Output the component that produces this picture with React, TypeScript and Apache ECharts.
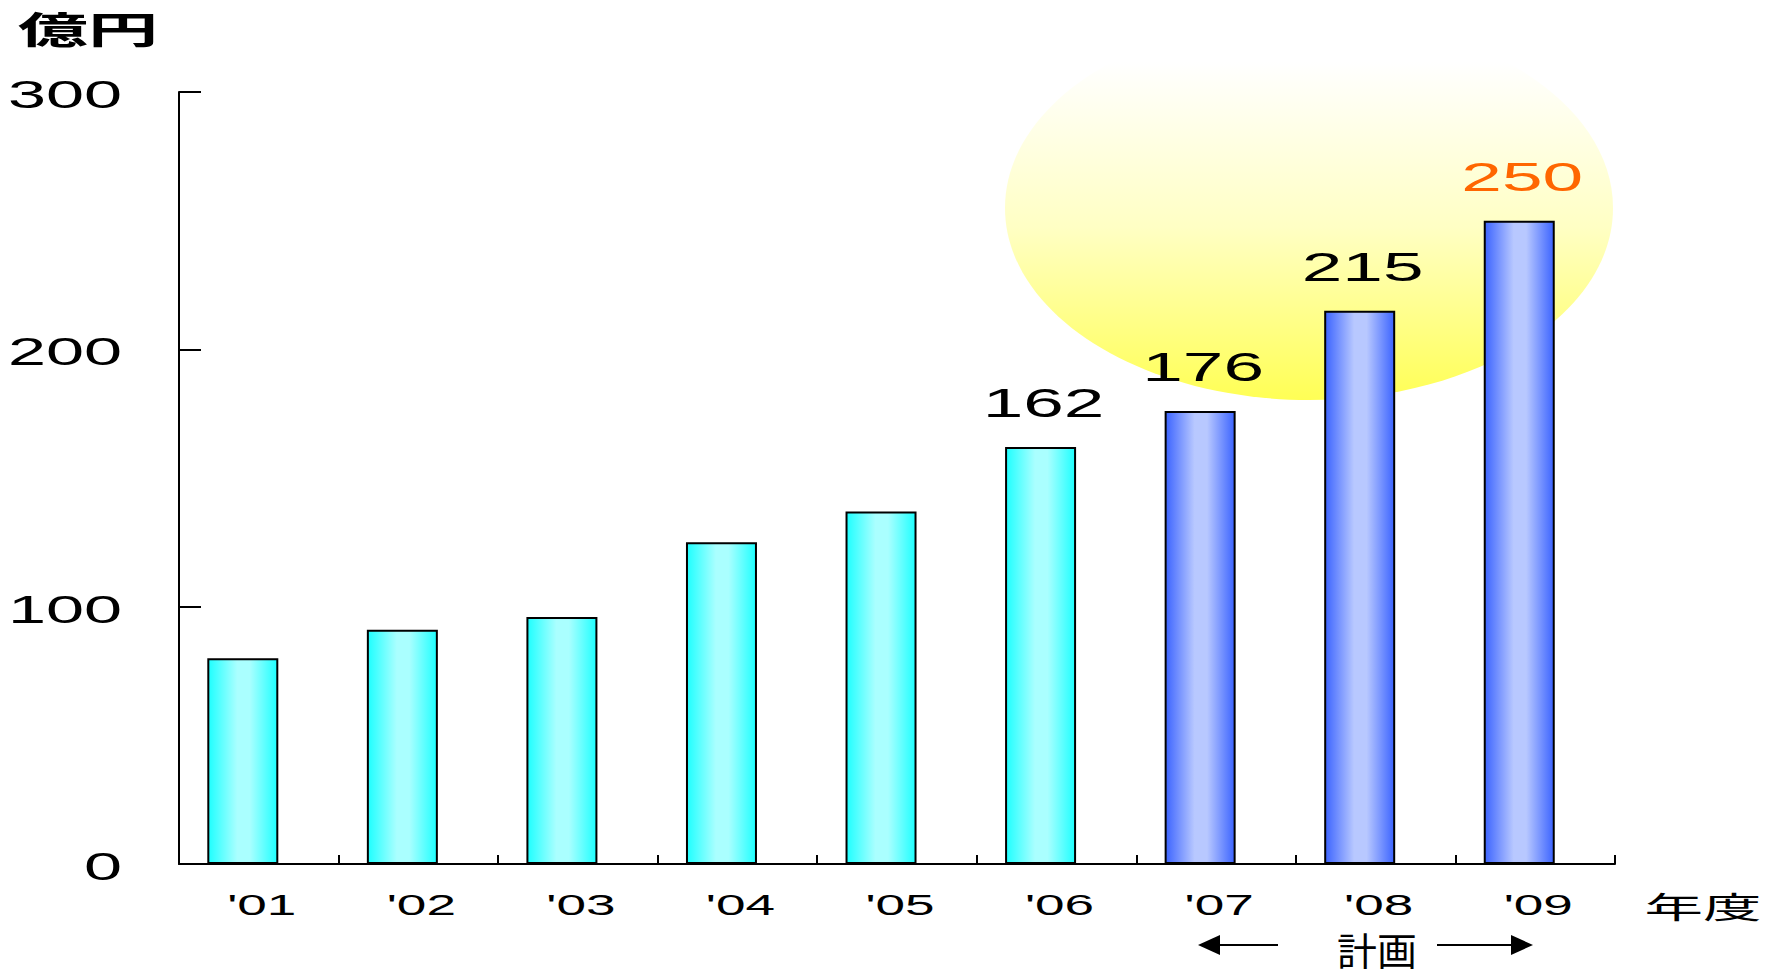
import React, { useEffect, useRef } from "react";
import * as echarts from "echarts";

// ---- data ----
const categories = ["'01", "'02", "'03", "'04", "'05", "'06", "'07", "'08", "'09"];
const values = [80, 91, 96, 125, 137, 162, 176, 215, 250];
const isPlan = [false, false, false, false, false, false, true, true, true];
const showValue = [false, false, false, false, false, true, true, true, true];
const valueColors = ["#000000", "#000000", "#000000", "#000000", "#000000", "#000000", "#000000", "#000000", "#FF6600"];
const yTicks = [0, 100, 200, 300];
const unitLabel = "億円";
const xAxisName = "年度";
const planLabel = "計画";

const LATIN = "'Liberation Sans', Arial, sans-serif";
const CJK = "'Noto Sans CJK JP', 'Noto Sans', sans-serif";
const BAR_SHIFT = -16;

export default function App() {
  const ref = useRef<HTMLDivElement>(null);

  useEffect(() => {
    const chart = echarts.init(ref.current as HTMLDivElement, null, { renderer: "svg" });

    const cyanGrad = new echarts.graphic.LinearGradient(0, 0, 1, 0, [
      { offset: 0, color: "#1EFFFF" },
      { offset: 0.42, color: "#AAFFFF" },
      { offset: 0.6, color: "#AAFFFF" },
      { offset: 1, color: "#1EFFFF" },
    ]);
    const blueGrad = new echarts.graphic.LinearGradient(0, 0, 1, 0, [
      { offset: 0, color: "#3C64FF" },
      { offset: 0.42, color: "#B8C8FF" },
      { offset: 0.6, color: "#B8C8FF" },
      { offset: 1, color: "#3C64FF" },
    ]);

    const barData = values.map((v, i) => ({
      value: v,
      itemStyle: {
        color: isPlan[i] ? blueGrad : cyanGrad,
        borderColor: "#000000",
        borderWidth: 2,
      },
    }));

    const labelData = values
      .map((v, i) => [i, v, i])
      .filter((_, i) => showValue[i]);

    const option: any = {
      animation: false,
      backgroundColor: "#ffffff",
      grid: { left: 179, right: 165, top: 92, bottom: 114, containLabel: false },
      xAxis: {
        type: "category",
        data: categories,
        boundaryGap: true,
        axisLine: { show: true, lineStyle: { color: "#000000", width: 2 } },
        axisTick: { show: true, inside: true, length: 9, interval: 0, lineStyle: { color: "#000000", width: 2 } },
        axisLabel: { show: false },
        splitLine: { show: false },
      },
      yAxis: {
        type: "value",
        min: 0,
        max: 300,
        interval: 100,
        axisLine: { show: true, lineStyle: { color: "#000000", width: 2 } },
        axisTick: { show: true, inside: true, length: 22, lineStyle: { color: "#000000", width: 2 } },
        axisLabel: { show: false },
        splitLine: { show: false },
      },
      graphic: [
        {
          type: "ellipse",
          z: 0,
          silent: true,
          shape: { cx: 1309, cy: 208, rx: 304, ry: 192 },
          style: {
            fill: new echarts.graphic.LinearGradient(0, 0, 0, 1, [
              { offset: 0, color: "#FFFFFF" },
              { offset: 0.12, color: "#FFFFFF" },
              { offset: 0.55, color: "#FFFFC4" },
              { offset: 1, color: "#FFFF55" },
            ]),
          },
        },
        {
          type: "text",
          z: 10,
          x: 88,
          y: 28,
          scaleX: 1.9,
          style: {
            text: unitLabel,
            fill: "#000000",
            fontSize: 37,
            fontWeight: "bold",
            fontFamily: CJK,
            align: "center",
            verticalAlign: "middle",
          },
        },
        {
          type: "text",
          z: 10,
          x: 1703,
          y: 905,
          scaleX: 1.95,
          style: {
            text: xAxisName,
            fill: "#000000",
            fontSize: 30,
            fontFamily: CJK,
            align: "center",
            verticalAlign: "middle",
          },
        },
        {
          type: "text",
          z: 10,
          x: 1377,
          y: 948,
          scaleX: 1.05,
          style: {
            text: planLabel,
            fill: "#000000",
            fontSize: 38,
            fontFamily: CJK,
            align: "center",
            verticalAlign: "middle",
          },
        },
        {
          type: "line",
          z: 10,
          shape: { x1: 1215, y1: 945, x2: 1278, y2: 945 },
          style: { stroke: "#000000", lineWidth: 2 },
        },
        {
          type: "polygon",
          z: 10,
          shape: { points: [[1198, 945], [1220, 935], [1220, 955]] },
          style: { fill: "#000000" },
        },
        {
          type: "line",
          z: 10,
          shape: { x1: 1437, y1: 945, x2: 1515, y2: 945 },
          style: { stroke: "#000000", lineWidth: 2 },
        },
        {
          type: "polygon",
          z: 10,
          shape: { points: [[1533, 945], [1511, 935], [1511, 955]] },
          style: { fill: "#000000" },
        },
      ],
      series: [
        {
          type: "bar",
          name: "売上",
          data: barData,
          barWidth: 71,
          barGap: "-55%",
          z: 3,
        },
        {
          type: "bar",
          name: "spacer",
          data: categories.map(() => null),
          barWidth: 71,
          barGap: "-55%",
          silent: true,
        },
        {
          type: "custom",
          name: "valueLabels",
          clip: false,
          z: 6,
          data: labelData,
          renderItem: (params: any, api: any) => {
            const i = api.value(0);
            const v = api.value(1);
            const idx = api.value(2);
            const p = api.coord([i, v]);
            return {
              type: "text",
              x: p[0] + BAR_SHIFT + 3,
              y: p[1] - 44,
              scaleX: 1.78,
              style: {
                text: String(v),
                fill: valueColors[idx],
                fontSize: 41,
                fontFamily: LATIN,
                align: "center",
                verticalAlign: "middle",
              },
            };
          },
        },
        {
          type: "custom",
          name: "xLabels",
          clip: false,
          z: 6,
          data: categories.map((_, i) => [i, 0]),
          renderItem: (params: any, api: any) => {
            const i = api.value(0);
            const p = api.coord([i, 0]);
            return {
              type: "text",
              x: p[0] + 3,
              y: p[1] + 41,
              scaleX: 1.8,
              style: {
                text: categories[i],
                fill: "#000000",
                fontSize: 29.5,
                fontFamily: LATIN,
                align: "center",
                verticalAlign: "middle",
              },
            };
          },
        },
        {
          type: "custom",
          name: "yLabels",
          clip: false,
          z: 6,
          data: yTicks.map((t) => [0, t]),
          renderItem: (params: any, api: any) => {
            const v = api.value(1);
            const p = api.coord([0, v]);
            const band = api.size([1, 0])[0];
            return {
              type: "text",
              x: p[0] - band / 2 - 57,
              y: p[1] + 3,
              scaleX: 1.8,
              style: {
                text: String(v),
                fill: "#000000",
                fontSize: 38,
                fontFamily: LATIN,
                align: "right",
                verticalAlign: "middle",
              },
            };
          },
        },
      ],
    };

    chart.setOption(option);
    return () => {
      chart.dispose();
    };
  }, []);

  return (
    <div
      ref={ref}
      style={{ position: "absolute", left: 0, top: 0, width: 1780, height: 978 }}
    />
  );
}
